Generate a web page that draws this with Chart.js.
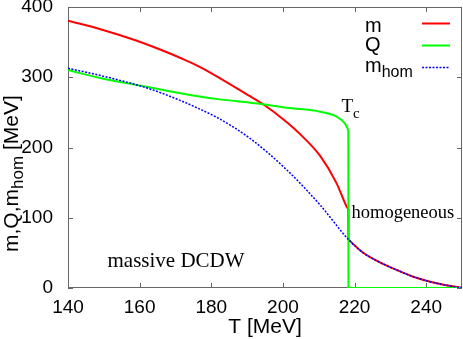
<!DOCTYPE html>
<html><head><meta charset="utf-8">
<script src="https://cdn.jsdelivr.net/npm/chart.js@4.4.1/dist/chart.umd.min.js"></script>
<style>html,body{margin:0;padding:0;background:#fff;}canvas{display:block;}</style>
</head><body>
<canvas id="c" width="463" height="339"></canvas>
<script>
// ---- data (T in MeV) ----

// m in the DCDW phase (T < Tc)
const T_m_dw = [140, 149.3, 158.6, 165.7, 171.6, 176.9, 190.8, 194.5, 201.1, 204.8, 210.4, 215.0, 217.8, 218.25];
const m_dw   = [380.5, 368, 353, 339.5, 327, 314.5, 273, 261.5, 236, 219, 188, 149, 115.7, 112.5];

// homogeneous solution above Tc (m = m_hom there)
const T_tail = [218.3, 222.4, 227.1, 231.8, 236.4, 241.1, 249.0, 250];
const m_tail = [69, 50.2, 36.5, 25.6, 16.1, 9.0, 1.0, 0.5];

// Q in the DCDW phase
const T_Q = [140, 149.3, 158.6, 162.3, 176.3, 182.4, 190.8, 194.5, 201.1, 210.4, 215.0, 217.3, 218.25];
const Q_v = [310.3, 298.5, 289.5, 286, 273, 268.5, 263.8, 261.5, 256.5, 251, 244, 234.4, 225];
const T_Q_zero = [218.3, 250];
const Q_zero   = [0, 0];

// m_hom below Tc
const T_h = [140, 149.3, 162.3, 172.2, 176.3, 181.5, 190.8, 201.1, 210.4];
const h_v = [312.7, 302.2, 284.3, 265.2, 255.8, 243, 213, 168, 118.1];

const xTicks = [140, 160, 180, 200, 220, 240];
const yTicks = [0, 100, 200, 300, 400];

const pts = (xs, ys) => xs.map((v, i) => ({x: v, y: ys[i]}));

const SANS = '"Liberation Sans", Arial, sans-serif';
const SERIF = '"Liberation Serif", "Times New Roman", serif';
const RED = '#ff0000', GREEN = '#00ff00', BLUE = '#0000ff';

function drawParts(ctx, x, y, parts) {
  let cx = x;
  for (const p of parts) {
    ctx.font = p.font;
    ctx.fillText(p.t, cx, y + (p.dy || 0));
    cx += ctx.measureText(p.t).width;
  }
}

const deco = {
  id: 'deco',
  beforeDatasetsDraw(chart) {
    const {ctx, chartArea: a, scales: {x, y}} = chart;
    ctx.save();
    ctx.strokeStyle = '#666';
    ctx.lineWidth = 1;
    ctx.strokeRect(a.left + 0.5, a.top + 0.5, a.right - a.left - 1, a.bottom - a.top - 1);
    ctx.beginPath();
    for (const v of xTicks) {
      const px = Math.round(x.getPixelForValue(v)) + 0.5;
      ctx.moveTo(px, a.bottom); ctx.lineTo(px, a.bottom - 5);
      ctx.moveTo(px, a.top); ctx.lineTo(px, a.top + 5);
    }
    for (const v of yTicks) {
      const py = Math.round(y.getPixelForValue(v)) + 0.5;
      ctx.moveTo(a.left, py); ctx.lineTo(a.left + 5, py);
      ctx.moveTo(a.right, py); ctx.lineTo(a.right - 5, py);
    }
    ctx.stroke();
    ctx.restore();
  },
  afterDraw(chart) {
    const {ctx} = chart;
    ctx.save();
    ctx.fillStyle = '#000';
    ctx.textBaseline = 'alphabetic';
    ctx.textAlign = 'left';
    // legend
    const lx0 = 422, lx1 = 450;
    const items = [
      {parts: [{t: 'm', font: '20px ' + SANS}], y: 23.5, base: 31.5, color: RED, w: 2, dash: []},
      {parts: [{t: 'Q', font: '20px ' + SANS}], y: 45.5, base: 50.5, color: GREEN, w: 2, dash: []},
      {parts: [{t: 'm', font: '20px ' + SANS}, {t: 'hom', font: '16px ' + SANS, dy: 5}], y: 67.5, base: 72, color: BLUE, w: 1.5, dash: [2, 1.5]},
    ];
    for (const it of items) {
      drawParts(ctx, 365, it.base, it.parts);
      ctx.beginPath();
      ctx.strokeStyle = it.color; ctx.lineWidth = it.w; ctx.setLineDash(it.dash);
      ctx.moveTo(lx0, it.y); ctx.lineTo(lx1, it.y); ctx.stroke();
    }
    ctx.setLineDash([]);
    // x title
    ctx.font = '21px ' + SANS;
    ctx.textAlign = 'center';
    ctx.fillText('T [MeV]', 265, 333);
    ctx.textAlign = 'left';
    // y title
    ctx.save();
    ctx.translate(18, 252);
    ctx.rotate(-Math.PI / 2);
    drawParts(ctx, 0, 0, [
      {t: 'm,Q,m', font: '21px ' + SANS},
      {t: 'hom', font: '17px ' + SANS, dy: 5},
      {t: ' [MeV]', font: '21px ' + SANS}
    ]);
    ctx.restore();
    // annotations
    drawParts(ctx, 341.5, 112, [{t: 'T', font: '19px ' + SERIF}, {t: 'c', font: '15px ' + SERIF, dy: 6}]);
    ctx.font = '18.5px ' + SERIF;
    ctx.fillText('homogeneous', 351.5, 218);
    ctx.font = '21px ' + SERIF;
    ctx.fillText('massive DCDW', 107.5, 266.5);
    ctx.restore();
  }
};

const smooth = {pointRadius: 0, cubicInterpolationMode: 'monotone'};
const straight = {pointRadius: 0, tension: 0};

new Chart(document.getElementById('c'), {
  type: 'line',
  data: {
    datasets: [
      // m (red)
      {label: 'm', data: pts(T_m_dw, m_dw), borderColor: RED, borderWidth: 2, order: 4, ...smooth},
      {label: 'm jump', data: [{x: T_m_dw[T_m_dw.length - 1], y: m_dw[m_dw.length - 1]}, {x: T_tail[0], y: m_tail[0]}], borderColor: RED, borderWidth: 2, order: 4, ...straight},
      {label: 'm tail', data: pts(T_tail, m_tail), borderColor: RED, borderWidth: 2, order: 4, ...smooth},
      // Q (green)
      {label: 'Q', data: pts(T_Q, Q_v), borderColor: GREEN, borderWidth: 2, order: 2, ...smooth},
      {label: 'Q drop', data: [{x: T_Q[T_Q.length - 1], y: Q_v[Q_v.length - 1]}, ...pts(T_Q_zero, Q_zero)], borderColor: GREEN, borderWidth: 2, order: 2, ...straight},
      // m_hom (blue dotted)
      {label: 'm_hom', data: pts(T_h.concat(T_tail), h_v.concat(m_tail)), borderColor: BLUE, borderWidth: 1.5, borderDash: [2, 1.5], order: 0, ...smooth}
    ]
  },
  options: {
    responsive: false,
    animation: false,
    layout: {padding: {top: 7, right: 1, left: 0, bottom: 0}},
    plugins: {legend: {display: false}, tooltip: {enabled: false}},
    scales: {
      x: {
        type: 'linear', min: 140, max: 250,
        afterBuildTicks: s => { s.ticks = xTicks.map(v => ({value: v})); },
        afterFit: s => { s.height = 51; s.paddingLeft = 0; s.paddingRight = 0; },
        grid: {display: false},
        border: {display: false},
        ticks: {font: {family: SANS, size: 19}, color: '#000', padding: 0, maxRotation: 0}
      },
      y: {
        type: 'linear', min: 0, max: 400,
        afterBuildTicks: s => { s.ticks = yTicks.map(v => ({value: v})); },
        afterFit: s => { s.width = 68; s.paddingTop = 0; s.paddingBottom = 0; },
        grid: {display: false},
        border: {display: false},
        ticks: {font: {family: SANS, size: 19}, color: '#000', padding: 7}
      }
    }
  },
  plugins: [deco]
});
</script>
</body></html>
